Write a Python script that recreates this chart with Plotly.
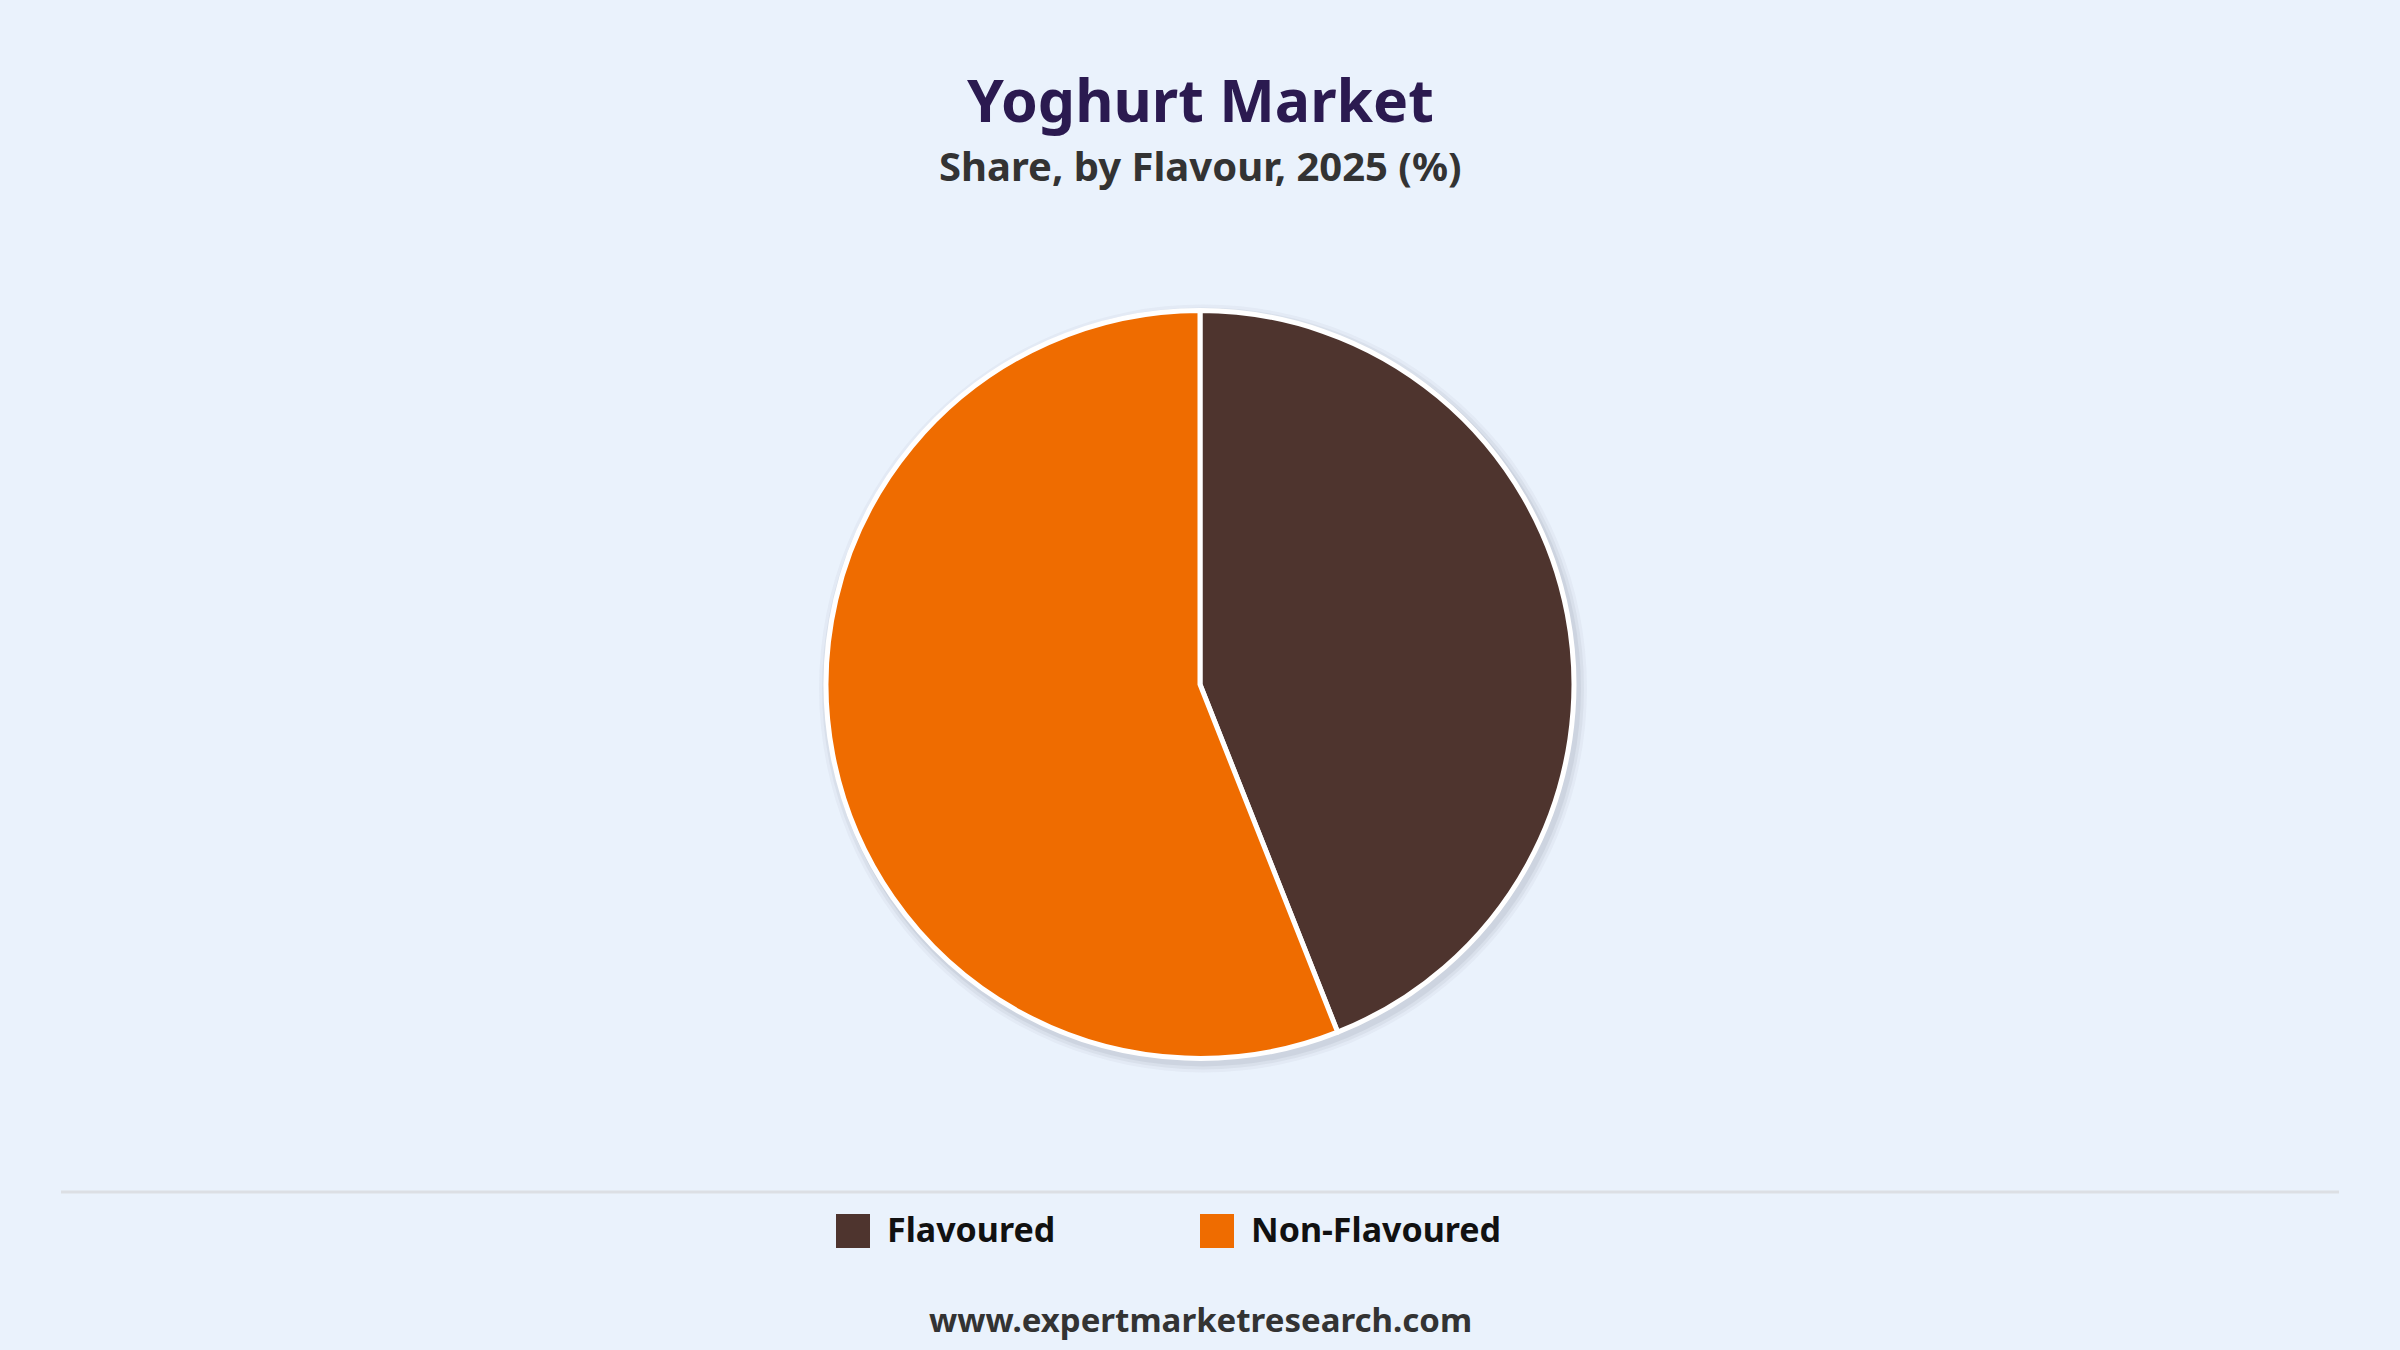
import plotly.graph_objects as go

categories = ["Flavoured", "Non-Flavoured"]
shares = [44, 56]
colors = ["#4e342e", "#ef6c00"]

title_text = "Yoghurt Market"
subtitle_text = "Share, by Flavour, 2025 (%)"
footer_text = "www.expertmarketresearch.com"

W, H = 2400, 1350
bg = "#eaf2fc"
font_family = "Noto Sans"

pie_dom_y = [0.216, 0.770]

fig = go.Figure()
fig.add_trace(go.Pie(
    labels=categories,
    values=shares,
    marker=dict(colors=colors, line=dict(color="white", width=5)),
    sort=False,
    direction="clockwise",
    rotation=0,
    textinfo="none",
    hoverinfo="label+percent",
    domain=dict(x=[0, 1], y=pie_dom_y),
    showlegend=False,
))

# custom legend (large squares) drawn on a hidden pixel axis
legend_y = H - 1231
legend_x0 = 853
legend_step = 364
leg_x = [legend_x0 + i * legend_step for i in range(len(categories))]
leg_y = [legend_y] * len(categories)
fig.add_trace(go.Scatter(
    x=leg_x, y=leg_y, mode="markers",
    marker=dict(symbol="square", size=34, color=colors, line=dict(width=0)),
    hoverinfo="skip", showlegend=False,
))
fig.add_trace(go.Scatter(
    x=[x + 34 for x in leg_x], y=[y - 2 for y in leg_y], mode="text",
    text=["<b>" + c + "</b>" for c in categories], textposition="middle right",
    textfont=dict(family=font_family, size=34, color="#111111"),
    hoverinfo="skip", showlegend=False,
))

# subtle shadow behind the pie
r_px = (pie_dom_y[1] - pie_dom_y[0]) * H / 2
cy_px = (pie_dom_y[0] + pie_dom_y[1]) / 2 * H
cx_px = W / 2
shapes = []
for grow, op in [(10, 0.05), (7, 0.07), (4, 0.09)]:
    rr = r_px + grow
    shapes.append(dict(
        type="circle", xref="paper", yref="paper", layer="below",
        x0=(cx_px - rr + 3) / W, x1=(cx_px + rr + 3) / W,
        y0=(cy_px - rr - 4) / H, y1=(cy_px + rr - 4) / H,
        fillcolor="rgba(90,100,120,%.2f)" % op, line=dict(width=0),
    ))
shapes.append(dict(
    type="line", xref="paper", yref="paper",
    x0=61 / W, x1=2339 / W, y0=(H - 1192) / H, y1=(H - 1192) / H,
    line=dict(color="#dcdfe4", width=3),
))

annotations = [
    dict(text="<b>" + title_text + "</b>", x=0.5, y=(H - 99) / H, xref="paper", yref="paper",
         showarrow=False, xanchor="center", yanchor="middle",
         font=dict(family=font_family, size=59, color="#2b1a50", weight=900)),
    dict(text="<b>" + subtitle_text + "</b>", x=0.5, y=(H - 165) / H, xref="paper", yref="paper",
         showarrow=False, xanchor="center", yanchor="middle",
         font=dict(family=font_family, size=40, color="#333333")),
    dict(text="<b>" + footer_text + "</b>", x=0.5, y=(H - 1319) / H, xref="paper", yref="paper",
         showarrow=False, xanchor="center", yanchor="middle",
         font=dict(family=font_family, size=33, color="#333333")),
]

fig.update_layout(
    width=W, height=H,
    paper_bgcolor=bg, plot_bgcolor="rgba(0,0,0,0)",
    margin=dict(l=0, r=0, t=0, b=0),
    showlegend=False,
    xaxis=dict(range=[0, W], visible=False, fixedrange=True, domain=[0, 1]),
    yaxis=dict(range=[0, H], visible=False, fixedrange=True, domain=[0, 1]),
    shapes=shapes,
    annotations=annotations,
)

fig.write_html("out.html", config={"displayModeBar": False},
               post_script="document.body.style.margin='0';")
